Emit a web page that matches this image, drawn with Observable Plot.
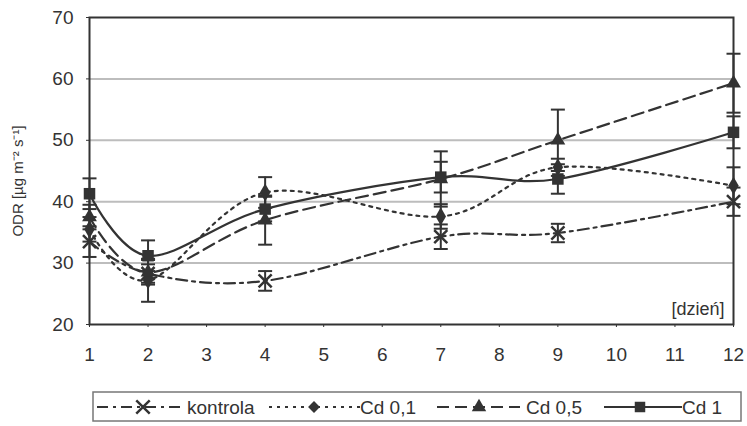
<!DOCTYPE html>
<html>
<head>
<meta charset="utf-8">
<script src="https://cdn.jsdelivr.net/npm/d3@7"></script>
<script src="https://cdn.jsdelivr.net/npm/@observablehq/plot@0.6"></script>
<style>
  body { margin: 0; background: #fff; font-family: "Liberation Sans", Arial, sans-serif; }
  #wrap { position: relative; width: 747px; height: 426px; }
  #legend { position: absolute; left: 92px; top: 391px; }
</style>
</head>
<body>
<div id="wrap"><div id="chart"></div><div id="legend"></div></div>
<script>
// ---- data ----
const days = [1, 2, 4, 7, 9, 12];
const seriesNames = ["kontrola", "Cd 0,1", "Cd 0,5", "Cd 1"];
const kontrola    = [33.5, 28.3, 27.1, 34.3, 34.9, 40.0];
const kontrolaErr = [2.5, 1.5, 1.6, 2.0, 1.5, 2.3];
const cd01        = [35.5, 27.2, 41.5, 37.6, 45.6, 42.6];
const cd01Err     = [2.0, 3.5, 2.5, 2.0, 1.4, 3.0];
const cd05        = [37.5, 28.5, 37.0, 43.7, 50.0, 59.3];
const cd05Err     = [2.0, 2.0, 4.0, 4.5, 5.0, 4.8];
const cd1         = [41.3, 31.2, 38.8, 44.0, 43.7, 51.3];
const cd1Err      = [2.5, 2.5, 2.0, 2.5, 2.4, 2.6];
const xTicks = [1,2,3,4,5,6,7,8,9,10,11,12];
const yTicks = [20,30,40,50,60,70];
const gridTicks = [30,40,50,60];

const ink = "#333";
const styles = {
  "kontrola": {dash: "11,5,3,5", symbol: "times"},
  "Cd 0,1":   {dash: "3,5",      symbol: "diamond"},
  "Cd 0,5":   {dash: "12,6",     symbol: "triangle"},
  "Cd 1":     {dash: null,       symbol: "square"}
};
const values = [kontrola, cd01, cd05, cd1];
const errs = [kontrolaErr, cd01Err, cd05Err, cd1Err];
const rows = [];
seriesNames.forEach((s, k) => days.forEach((d, i) =>
  rows.push({series: s, day: d, v: values[k][i], lo: values[k][i] - errs[k][i], hi: values[k][i] + errs[k][i]})));

// horizontal cap symbol for error bars
const hbar = {draw(ctx, size) { const r = Math.sqrt(size / Math.PI); ctx.moveTo(-r, 0); ctx.lineTo(r, 0); }};

const marks = [
  Plot.gridY(gridTicks, {stroke: "#bdbdbd", strokeOpacity: 1, strokeWidth: 2}),
  Plot.ruleX(rows, {x: "day", y1: "lo", y2: "hi", stroke: ink, strokeWidth: 2}),
  Plot.dot(rows, {x: "day", y: "lo", symbol: hbar, r: 7, stroke: ink, strokeWidth: 2}),
  Plot.dot(rows, {x: "day", y: "hi", symbol: hbar, r: 7, stroke: ink, strokeWidth: 2})
];
seriesNames.forEach(s => {
  const data = rows.filter(r => r.series === s);
  marks.push(Plot.line(data, {x: "day", y: "v", curve: "cardinal", tension: 0, stroke: ink, strokeWidth: 2.2,
    strokeDasharray: styles[s].dash || undefined}));
});
seriesNames.forEach(s => {
  const data = rows.filter(r => r.series === s);
  const st = styles[s];
  if (st.symbol === "times")
    marks.push(Plot.dot(data, {x: "day", y: "v", symbol: "times", r: 6, stroke: ink, strokeWidth: 2.5}));
  else
    marks.push(Plot.dot(data, {x: "day", y: "v", symbol: st.symbol, r: st.symbol === "square" ? 6.5 : 5.5, fill: ink, stroke: "none"}));
});
marks.push(Plot.frame({stroke: ink, strokeWidth: 2}));
marks.push(Plot.text(["[dzień]"], {frameAnchor: "bottom-right", dx: -9, dy: -10, textAnchor: "end", fontSize: 18, fill: ink}));
marks.push(Plot.text(["ODR [µg m⁻² s⁻¹]"], {frameAnchor: "left", rotate: -90, dx: -71, dy: 10, textAnchor: "middle", fontSize: 15, fill: ink}));

const chart = Plot.plot({
  width: 747, height: 386,
  marginLeft: 89, marginRight: 14, marginTop: 17, marginBottom: 62,
  style: {fontFamily: "'Liberation Sans', Arial, sans-serif", fontSize: "19px", color: ink, background: "white", overflow: "visible"},
  x: {domain: [1, 12], ticks: xTicks, tickSize: 3, tickPadding: 20, tickFormat: d => String(d), label: null},
  y: {domain: [20, 70], ticks: yTicks, tickSize: 3, tickPadding: 13, label: null},
  marks
});
document.getElementById("chart").appendChild(chart);

// ---- legend ----
const lw = 650, lh = 31;
const lg = d3.select("#legend").append("svg").attr("width", lw).attr("height", lh)
  .style("font-family", "'Liberation Sans', Arial, sans-serif");
lg.append("rect").attr("x", 1).attr("y", 1).attr("width", lw - 2).attr("height", lh - 2)
  .attr("fill", "white").attr("stroke", "#777").attr("stroke-width", 1.5);
const items = [
  {name: "kontrola", x1: 5,   x2: 92,  m: 51,  tx: 95},
  {name: "Cd 0,1",   x1: 177, x2: 268, m: 222, tx: 268},
  {name: "Cd 0,5",   x1: 345, x2: 428, m: 387, tx: 434},
  {name: "Cd 1",     x1: 512, x2: 590, m: 548, tx: 590}
];
const sym = {times: d3.symbolTimes, diamond: d3.symbolDiamond2, triangle: d3.symbolTriangle, square: d3.symbolSquare};
items.forEach(it => {
  const st = styles[it.name];
  const cy = lh / 2 + 0.5;
  lg.append("line").attr("x1", it.x1).attr("x2", it.x2).attr("y1", cy).attr("y2", cy)
    .attr("stroke", ink).attr("stroke-width", 2.2).attr("stroke-dasharray", st.dash);
  const size = st.symbol === "square" ? 110 : st.symbol === "times" ? 120 : 90;
  const p = lg.append("path").attr("d", d3.symbol(sym[st.symbol], size)()).attr("transform", `translate(${it.m},${cy})`);
  if (st.symbol === "times") p.attr("fill", "none").attr("stroke", ink).attr("stroke-width", 2.5);
  else p.attr("fill", ink);
  lg.append("text").attr("x", it.tx).attr("y", cy).attr("dy", "0.36em").attr("font-size", 19).attr("fill", ink).text(it.name);
});
</script>
</body>
</html>
